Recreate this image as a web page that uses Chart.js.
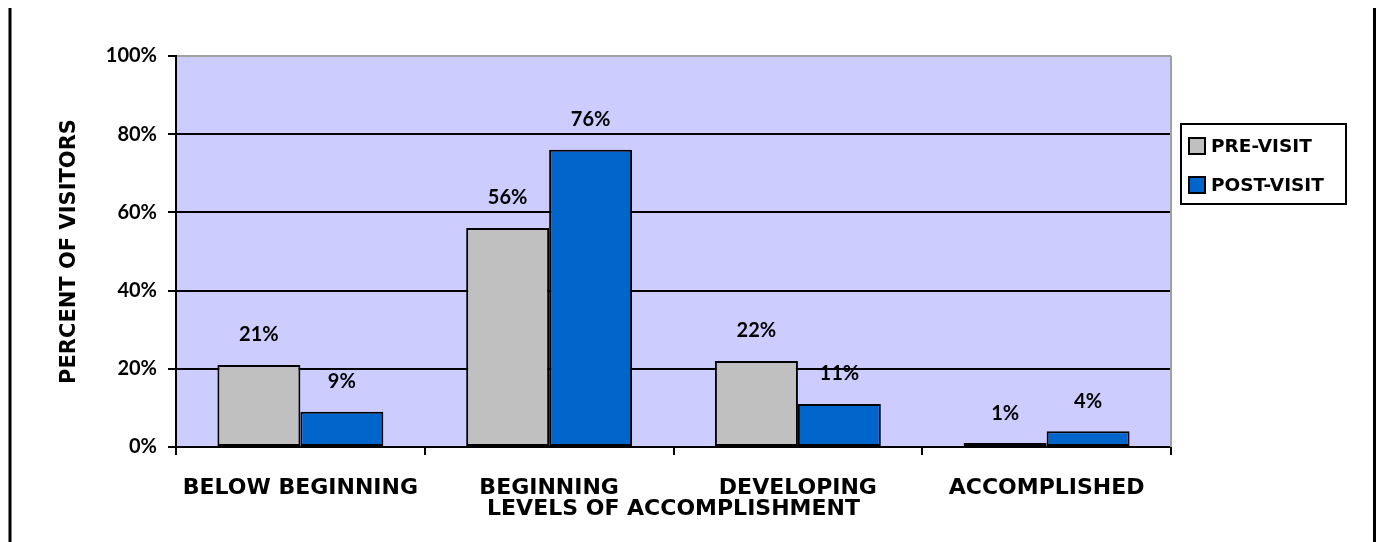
<!DOCTYPE html>
<html><head><meta charset="utf-8">
<script src="https://cdn.jsdelivr.net/npm/chart.js@4.4.0/dist/chart.umd.min.js"></script>
<style>html,body{margin:0;padding:0;background:#fff;overflow:hidden;}</style>
</head><body>
<canvas id="c" width="1379" height="542" style="display:block;width:1379px;height:542px"></canvas>
<script>
const categories = ['BELOW BEGINNING', 'BEGINNING', 'DEVELOPING', 'ACCOMPLISHED'];
const preVisit = [21, 56, 22, 1];
const postVisit = [9, 76, 11, 4];
const seriesNames = ['PRE-VISIT', 'POST-VISIT'];
const seriesColors = ['#C0C0C0', '#0066CC'];
const yTicks = [0, 20, 40, 60, 80, 100];
const xTitle = 'LEVELS OF ACCOMPLISHMENT';
const yTitle = 'PERCENT OF VISITORS';

const WORD_FONT = '"DejaVu Sans", sans-serif';
const NUM_FONT = 'Lato, "DejaVu Sans", sans-serif';

const backgroundPlugin = {
  id: 'bg',
  beforeDraw(chart) {
    const {ctx, chartArea: a} = chart;
    ctx.save();
    ctx.fillStyle = '#fff';
    ctx.fillRect(0, 0, chart.width, chart.height);
    ctx.fillStyle = '#CCCCFF';
    ctx.fillRect(a.left, a.top, a.right - a.left, a.bottom - a.top);
    ctx.restore();
  },
  afterDraw(chart) {
    const {ctx, chartArea: a} = chart;
    ctx.save();
    ctx.strokeStyle = '#A0A0A0';
    ctx.lineWidth = 2;
    ctx.beginPath();
    ctx.moveTo(a.right, a.top);
    ctx.lineTo(a.right, a.bottom);
    ctx.stroke();
    ctx.strokeStyle = '#000';
    ctx.lineWidth = 3;
    ctx.beginPath();
    ctx.moveTo(10, 8); ctx.lineTo(10, chart.height);
    ctx.moveTo(1374.5, 8); ctx.lineTo(1374.5, chart.height);
    ctx.stroke();
    ctx.restore();
  }
};

const dataLabelPlugin = {
  id: 'dataLabels',
  afterDatasetsDraw(chart) {
    const {ctx} = chart;
    ctx.save();
    ctx.font = 'bold 20px ' + NUM_FONT;
    ctx.fillStyle = '#000';
    ctx.textAlign = 'center';
    ctx.textBaseline = 'middle';
    chart.data.datasets.forEach((ds, di) => {
      const meta = chart.getDatasetMeta(di);
      meta.data.forEach((bar, i) => {
        ctx.fillText(ds.data[i] + '%', bar.x, bar.y - 30);
      });
    });
    ctx.restore();
  }
};

const legendPlugin = {
  id: 'boxLegend',
  afterDraw(chart) {
    const {ctx, chartArea: a} = chart;
    const x = a.right + 10, y = 124, w = 165, h = 80;
    ctx.save();
    ctx.fillStyle = '#fff';
    ctx.fillRect(x, y, w, h);
    ctx.strokeStyle = '#000';
    ctx.lineWidth = 2;
    ctx.strokeRect(x, y, w, h);
    ctx.font = 'bold 18.5px ' + WORD_FONT;
    ctx.textBaseline = 'middle';
    ctx.textAlign = 'left';
    chart.data.datasets.forEach((ds, i) => {
      const cy = y + 22 + i * 39;
      ctx.fillStyle = ds.backgroundColor;
      ctx.fillRect(x + 8, cy - 8, 16, 16);
      ctx.strokeRect(x + 8, cy - 8, 16, 16);
      ctx.fillStyle = '#000';
      ctx.fillText(ds.label, x + 30, cy + 1);
    });
    ctx.restore();
  }
};

new Chart(document.getElementById('c'), {
  type: 'bar',
  data: {
    labels: categories,
    datasets: [
      {label: seriesNames[0], data: preVisit, backgroundColor: seriesColors[0], borderColor: '#000', borderWidth: 2, borderSkipped: false},
      {label: seriesNames[1], data: postVisit, backgroundColor: seriesColors[1], borderColor: '#000', borderWidth: 2, borderSkipped: false}
    ]
  },
  options: {
    responsive: false,
    animation: false,
    devicePixelRatio: 1,
    categoryPercentage: 0.667,
    barPercentage: 1,
    layout: {padding: {top: 56, right: 208, left: 0, bottom: 0}},
    plugins: {legend: {display: false}, tooltip: {enabled: false}},
    scales: {
      x: {
        afterFit(s) { s.height = 95; },
        grid: {drawOnChartArea: false, drawTicks: true, tickLength: 8, color: '#000', tickColor: '#000', lineWidth: 2, offset: true},
        border: {display: true, color: '#000', width: 2},
        ticks: {font: {family: WORD_FONT, size: 22, weight: 'bold'}, color: '#000', padding: 20, maxRotation: 0, autoSkip: false},
        title: {display: true, text: xTitle, color: '#000', font: {family: WORD_FONT, size: 22, weight: 'bold'}, padding: {top: 0, bottom: 20}}
      },
      y: {
        min: 0, max: 100,
        afterFit(s) { s.width = 176; },
        afterBuildTicks(s) { s.ticks = yTicks.map(v => ({value: v})); },
        grid: {color: c => (c.tick && c.tick.value === 100) ? '#A0A0A0' : '#000', tickColor: '#000', lineWidth: 2, tickLength: 8},
        border: {display: true, color: '#000', width: 2},
        ticks: {font: {family: NUM_FONT, size: 20, weight: 'bold'}, color: '#000', padding: 11, callback: v => v + '%'},
        title: {display: true, text: yTitle, color: '#000', font: {family: WORD_FONT, size: 21, weight: 'bold'}, padding: {top: 57, bottom: 0}}
      }
    }
  },
  plugins: [backgroundPlugin, dataLabelPlugin, legendPlugin]
});
</script>
</body></html>
